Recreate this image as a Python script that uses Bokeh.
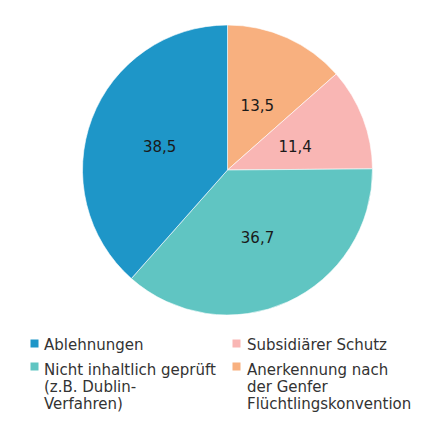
import math
from bokeh.plotting import figure
from bokeh.models import ColumnDataSource, Range1d
from bokeh.core.properties import value
from bokeh.embed import file_html
from bokeh.resources import INLINE

# Data (clockwise from 12 o'clock)
categories = ["Anerkennung nach der Genfer Flüchtlingskonvention", "Subsidiärer Schutz",
              "Nicht inhaltlich geprüft (z.B. Dublin-Verfahren)", "Ablehnungen"]
values = [13.5, 11.4, 36.7, 38.5]
value_labels = ["13,5", "11,4", "36,7", "38,5"]
colors = ["#f8b07f", "#f9b6b4", "#60c5c2", "#1e96c8"]

# Legend (two columns)
legend_lines = [["Ablehnungen"],
                ["Nicht inhaltlich geprüft", "(z.B. Dublin-", "Verfahren)"],
                ["Subsidiärer Schutz"],
                ["Anerkennung nach", "der Genfer", "Flüchtlingskonvention"]]
legend_colors = ["#1e96c8", "#60c5c2", "#f9b6b4", "#f8b07f"]

W, H = 430, 420
p = figure(width=W, height=H, output_backend="svg", toolbar_location=None,
           x_range=Range1d(0, W), y_range=Range1d(0, H), min_border=0)
p.axis.visible = False
p.grid.visible = False
p.outline_line_color = None
p.background_fill_color = "white"

cx, cy, R = 227, H - 169.5, 145
total = sum(values)
starts, ends, lx, ly = [], [], [], []
cum = 0.0
for v in values:
    a0 = math.pi / 2 - 2 * math.pi * cum / total
    a1 = math.pi / 2 - 2 * math.pi * (cum + v) / total
    starts.append(a0)
    ends.append(a1)
    mid = (a0 + a1) / 2
    lx.append(cx + 0.5 * R * math.cos(mid))
    ly.append(cy + 0.5 * R * math.sin(mid) - 1.5)
    cum += v

src = ColumnDataSource(dict(x=[cx] * 4, y=[cy] * 4, s=starts, e=ends, c=colors,
                            lx=lx, ly=ly, t=value_labels))
p.wedge(x="x", y="y", radius=R, start_angle="s", end_angle="e", direction="clock",
        fill_color="c", line_color="white", line_width=0.6, source=src)
p.text(x="lx", y="ly", text="t", source=src, text_align="center", text_baseline="middle",
       text_font=value("DejaVu Sans"), text_font_size="15px", text_color="#1a1a1a")

# legend
col_sq = [34, 34, 236, 236]
col_tx = [43.5, 43.5, 246.5, 246.5]
row_sq = [343, 366, 343, 366]
row_mid = [344.5, 369, 344.5, 369]
line_h = 17
sq_x, sq_y, tx, ty, tt = [], [], [], [], []
for i, lines in enumerate(legend_lines):
    sq_x.append(col_sq[i])
    sq_y.append(H - row_sq[i])
    for j, ln in enumerate(lines):
        tx.append(col_tx[i])
        ty.append(H - (row_mid[i] + j * line_h))
        tt.append(ln)
p.scatter(x=sq_x, y=sq_y, marker="square", size=8, fill_color=legend_colors, line_color=None)
p.text(x=tx, y=ty, text=tt, text_align="left", text_baseline="middle",
       text_font=value("DejaVu Sans"), text_font_size="15px", text_color="#333333")

open("out.html", "w").write(file_html(p, INLINE))
